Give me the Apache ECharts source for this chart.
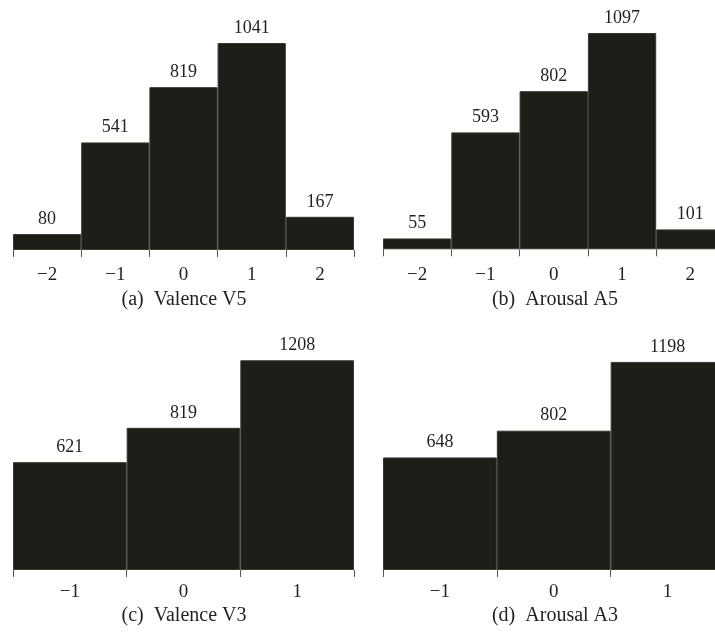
<!DOCTYPE html>
<html>
<head>
<meta charset="utf-8">
<script src="https://cdn.jsdelivr.net/npm/echarts@6/dist/echarts.min.js"></script>
<style>html,body{margin:0;padding:0;background:#fff;overflow:hidden}#c{width:715px;height:641px}</style>
</head>
<body>
<div id="c"></div>
<script>
var cats5 = ['\u22122', '\u22121', '0', '1', '2'];
var cats3 = ['\u22121', '0', '1'];
var valenceV5 = [80, 541, 819, 1041, 167];
var arousalA5 = [55, 593, 802, 1097, 101];
var valenceV3 = [621, 819, 1208];
var arousalA3 = [648, 802, 1198];
var captions = ['(a)  Valence V5', '(b)  Arousal A5', '(c)  Valence V3', '(d)  Arousal A3'];

var FONT = '"Liberation Serif", "DejaVu Serif", serif';
var TXT = '#231f20';
var grids = [
  {left: 13, top: 11.4, width: 341, height: 238.6, outerBoundsMode: 'none'},
  {left: 383, top: 12.7, width: 341.5, height: 236.6, outerBoundsMode: 'none'},
  {left: 13, top: 344.3, width: 341, height: 225.7, outerBoundsMode: 'none'},
  {left: 383, top: 344.2, width: 341.5, height: 225.8, outerBoundsMode: 'none'}
];
var yMax = [1200, 1200, 1300, 1300];
var catsList = [cats5, cats5, cats3, cats3];
var dataList = [valenceV5, arousalA5, valenceV3, arousalA3];
var labelMargin = [16, 16, 13, 13];
var capPos = [[184, 300], [555, 300], [184, 615], [555, 615]];

var option = {
  backgroundColor: '#fff',
  animation: false,
  grid: grids,
  xAxis: grids.map(function (g, i) {
    return {
      type: 'category', gridIndex: i, data: catsList[i], boundaryGap: true,
      axisLine: {show: false},
      axisTick: {show: true, length: 7, lineStyle: {color: '#555', width: 1}},
      axisLabel: {margin: labelMargin[i], fontFamily: FONT, fontSize: 19, color: TXT},
      splitLine: {show: false}
    };
  }),
  yAxis: grids.map(function (g, i) {
    return {type: 'value', gridIndex: i, min: 0, max: yMax[i], show: false, splitLine: {show: false}};
  }),
  series: dataList.map(function (d, i) {
    return {
      type: 'bar', xAxisIndex: i, yAxisIndex: i, data: d,
      barWidth: '100%', barCategoryGap: 0,
      itemStyle: {color: '#1f1d18', borderColor: '#38362f', borderWidth: 1},
      label: {show: true, position: 'top', distance: 6, fontFamily: FONT, fontSize: 18, color: TXT}
    };
  }),
  graphic: captions.map(function (t, i) {
    return {
      type: 'text', x: capPos[i][0], y: capPos[i][1] + (i > 1 ? 1 : 0),
      style: {text: t, fontFamily: FONT, fontSize: 20, fill: TXT, textAlign: 'center', textVerticalAlign: 'middle'}
    };
  })
};
var chart = echarts.init(document.getElementById('c'), null, {renderer: 'canvas'});
chart.setOption(option);
</script>
</body>
</html>
